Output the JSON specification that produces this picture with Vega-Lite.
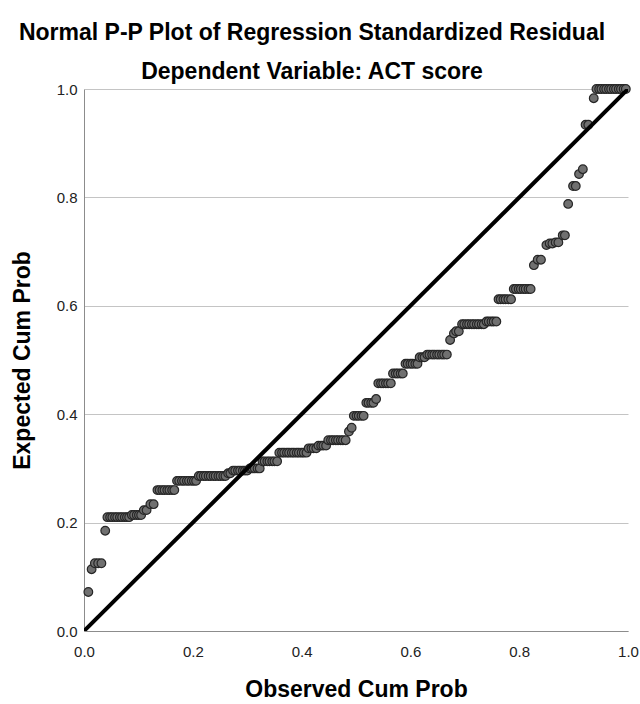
{
  "$schema": "https://vega.github.io/schema/vega-lite/v6.json",
  "autosize": "none",
  "width": 544,
  "height": 542,
  "padding": {"left": 84, "top": 89, "right": 12, "bottom": 73},
  "background": "white",
  "title": {
    "text": "Normal P-P Plot of Regression Standardized Residual",
    "subtitle": "Dependent Variable: ACT score",
    "font": "Liberation Sans",
    "fontSize": 23,
    "fontWeight": "bold",
    "color": "#000000",
    "subtitleFont": "Liberation Sans",
    "subtitleFontSize": 23,
    "subtitleFontWeight": "bold",
    "subtitleColor": "#000000",
    "subtitlePadding": 16,
    "anchor": "middle",
    "dx": -44,
    "offset": -2
  },
  "datasets": {
    "pts": [
      {"observed": 0.008, "expected": 0.072},
      {"observed": 0.014, "expected": 0.114},
      {"observed": 0.020, "expected": 0.125},
      {"observed": 0.026, "expected": 0.125},
      {"observed": 0.032, "expected": 0.125},
      {"observed": 0.039, "expected": 0.185},
      {"observed": 0.043, "expected": 0.210},
      {"observed": 0.048, "expected": 0.210},
      {"observed": 0.052, "expected": 0.210},
      {"observed": 0.057, "expected": 0.210},
      {"observed": 0.061, "expected": 0.210},
      {"observed": 0.066, "expected": 0.210},
      {"observed": 0.070, "expected": 0.210},
      {"observed": 0.075, "expected": 0.210},
      {"observed": 0.079, "expected": 0.210},
      {"observed": 0.083, "expected": 0.210},
      {"observed": 0.088, "expected": 0.214},
      {"observed": 0.092, "expected": 0.214},
      {"observed": 0.097, "expected": 0.214},
      {"observed": 0.101, "expected": 0.214},
      {"observed": 0.105, "expected": 0.214},
      {"observed": 0.110, "expected": 0.223},
      {"observed": 0.115, "expected": 0.223},
      {"observed": 0.122, "expected": 0.234},
      {"observed": 0.128, "expected": 0.234},
      {"observed": 0.135, "expected": 0.260},
      {"observed": 0.139, "expected": 0.260},
      {"observed": 0.144, "expected": 0.260},
      {"observed": 0.148, "expected": 0.260},
      {"observed": 0.153, "expected": 0.260},
      {"observed": 0.157, "expected": 0.260},
      {"observed": 0.162, "expected": 0.260},
      {"observed": 0.166, "expected": 0.260},
      {"observed": 0.171, "expected": 0.277},
      {"observed": 0.175, "expected": 0.277},
      {"observed": 0.180, "expected": 0.277},
      {"observed": 0.184, "expected": 0.277},
      {"observed": 0.189, "expected": 0.277},
      {"observed": 0.193, "expected": 0.277},
      {"observed": 0.198, "expected": 0.277},
      {"observed": 0.202, "expected": 0.277},
      {"observed": 0.206, "expected": 0.277},
      {"observed": 0.211, "expected": 0.286},
      {"observed": 0.215, "expected": 0.286},
      {"observed": 0.220, "expected": 0.286},
      {"observed": 0.224, "expected": 0.286},
      {"observed": 0.229, "expected": 0.286},
      {"observed": 0.233, "expected": 0.286},
      {"observed": 0.238, "expected": 0.286},
      {"observed": 0.242, "expected": 0.286},
      {"observed": 0.247, "expected": 0.286},
      {"observed": 0.251, "expected": 0.286},
      {"observed": 0.256, "expected": 0.286},
      {"observed": 0.260, "expected": 0.286},
      {"observed": 0.265, "expected": 0.291},
      {"observed": 0.269, "expected": 0.291},
      {"observed": 0.274, "expected": 0.296},
      {"observed": 0.278, "expected": 0.296},
      {"observed": 0.283, "expected": 0.296},
      {"observed": 0.287, "expected": 0.296},
      {"observed": 0.292, "expected": 0.296},
      {"observed": 0.296, "expected": 0.296},
      {"observed": 0.300, "expected": 0.296},
      {"observed": 0.305, "expected": 0.300},
      {"observed": 0.310, "expected": 0.300},
      {"observed": 0.314, "expected": 0.300},
      {"observed": 0.319, "expected": 0.300},
      {"observed": 0.323, "expected": 0.300},
      {"observed": 0.328, "expected": 0.313},
      {"observed": 0.332, "expected": 0.313},
      {"observed": 0.337, "expected": 0.313},
      {"observed": 0.341, "expected": 0.313},
      {"observed": 0.346, "expected": 0.313},
      {"observed": 0.350, "expected": 0.313},
      {"observed": 0.355, "expected": 0.313},
      {"observed": 0.359, "expected": 0.329},
      {"observed": 0.364, "expected": 0.329},
      {"observed": 0.368, "expected": 0.329},
      {"observed": 0.373, "expected": 0.329},
      {"observed": 0.377, "expected": 0.329},
      {"observed": 0.382, "expected": 0.329},
      {"observed": 0.386, "expected": 0.329},
      {"observed": 0.391, "expected": 0.329},
      {"observed": 0.395, "expected": 0.329},
      {"observed": 0.400, "expected": 0.329},
      {"observed": 0.404, "expected": 0.329},
      {"observed": 0.409, "expected": 0.329},
      {"observed": 0.413, "expected": 0.337},
      {"observed": 0.418, "expected": 0.337},
      {"observed": 0.422, "expected": 0.337},
      {"observed": 0.427, "expected": 0.337},
      {"observed": 0.431, "expected": 0.342},
      {"observed": 0.436, "expected": 0.342},
      {"observed": 0.440, "expected": 0.342},
      {"observed": 0.445, "expected": 0.342},
      {"observed": 0.449, "expected": 0.352},
      {"observed": 0.454, "expected": 0.352},
      {"observed": 0.458, "expected": 0.352},
      {"observed": 0.463, "expected": 0.352},
      {"observed": 0.467, "expected": 0.352},
      {"observed": 0.472, "expected": 0.352},
      {"observed": 0.476, "expected": 0.352},
      {"observed": 0.481, "expected": 0.352},
      {"observed": 0.487, "expected": 0.368},
      {"observed": 0.492, "expected": 0.375},
      {"observed": 0.496, "expected": 0.397},
      {"observed": 0.501, "expected": 0.397},
      {"observed": 0.505, "expected": 0.397},
      {"observed": 0.510, "expected": 0.397},
      {"observed": 0.514, "expected": 0.397},
      {"observed": 0.519, "expected": 0.421},
      {"observed": 0.523, "expected": 0.421},
      {"observed": 0.528, "expected": 0.421},
      {"observed": 0.532, "expected": 0.421},
      {"observed": 0.537, "expected": 0.428},
      {"observed": 0.541, "expected": 0.457},
      {"observed": 0.546, "expected": 0.457},
      {"observed": 0.550, "expected": 0.457},
      {"observed": 0.555, "expected": 0.457},
      {"observed": 0.559, "expected": 0.457},
      {"observed": 0.564, "expected": 0.457},
      {"observed": 0.568, "expected": 0.475},
      {"observed": 0.573, "expected": 0.475},
      {"observed": 0.577, "expected": 0.475},
      {"observed": 0.582, "expected": 0.475},
      {"observed": 0.586, "expected": 0.475},
      {"observed": 0.591, "expected": 0.493},
      {"observed": 0.595, "expected": 0.493},
      {"observed": 0.600, "expected": 0.493},
      {"observed": 0.604, "expected": 0.493},
      {"observed": 0.609, "expected": 0.493},
      {"observed": 0.613, "expected": 0.493},
      {"observed": 0.617, "expected": 0.505},
      {"observed": 0.622, "expected": 0.505},
      {"observed": 0.626, "expected": 0.505},
      {"observed": 0.631, "expected": 0.510},
      {"observed": 0.635, "expected": 0.510},
      {"observed": 0.640, "expected": 0.510},
      {"observed": 0.644, "expected": 0.510},
      {"observed": 0.649, "expected": 0.510},
      {"observed": 0.653, "expected": 0.510},
      {"observed": 0.658, "expected": 0.510},
      {"observed": 0.662, "expected": 0.510},
      {"observed": 0.667, "expected": 0.510},
      {"observed": 0.673, "expected": 0.537},
      {"observed": 0.680, "expected": 0.549},
      {"observed": 0.684, "expected": 0.553},
      {"observed": 0.689, "expected": 0.553},
      {"observed": 0.695, "expected": 0.566},
      {"observed": 0.699, "expected": 0.566},
      {"observed": 0.704, "expected": 0.566},
      {"observed": 0.708, "expected": 0.566},
      {"observed": 0.713, "expected": 0.566},
      {"observed": 0.717, "expected": 0.566},
      {"observed": 0.722, "expected": 0.566},
      {"observed": 0.726, "expected": 0.566},
      {"observed": 0.731, "expected": 0.566},
      {"observed": 0.735, "expected": 0.566},
      {"observed": 0.740, "expected": 0.571},
      {"observed": 0.744, "expected": 0.571},
      {"observed": 0.749, "expected": 0.571},
      {"observed": 0.753, "expected": 0.571},
      {"observed": 0.758, "expected": 0.571},
      {"observed": 0.762, "expected": 0.612},
      {"observed": 0.766, "expected": 0.612},
      {"observed": 0.771, "expected": 0.612},
      {"observed": 0.775, "expected": 0.612},
      {"observed": 0.780, "expected": 0.612},
      {"observed": 0.785, "expected": 0.612},
      {"observed": 0.790, "expected": 0.631},
      {"observed": 0.794, "expected": 0.631},
      {"observed": 0.799, "expected": 0.631},
      {"observed": 0.803, "expected": 0.631},
      {"observed": 0.808, "expected": 0.631},
      {"observed": 0.812, "expected": 0.631},
      {"observed": 0.817, "expected": 0.631},
      {"observed": 0.821, "expected": 0.631},
      {"observed": 0.827, "expected": 0.675},
      {"observed": 0.834, "expected": 0.685},
      {"observed": 0.840, "expected": 0.685},
      {"observed": 0.850, "expected": 0.712},
      {"observed": 0.856, "expected": 0.715},
      {"observed": 0.861, "expected": 0.715},
      {"observed": 0.867, "expected": 0.717},
      {"observed": 0.872, "expected": 0.717},
      {"observed": 0.880, "expected": 0.730},
      {"observed": 0.884, "expected": 0.730},
      {"observed": 0.890, "expected": 0.788},
      {"observed": 0.899, "expected": 0.821},
      {"observed": 0.904, "expected": 0.821},
      {"observed": 0.910, "expected": 0.843},
      {"observed": 0.917, "expected": 0.852},
      {"observed": 0.922, "expected": 0.934},
      {"observed": 0.927, "expected": 0.934},
      {"observed": 0.937, "expected": 0.983},
      {"observed": 0.942, "expected": 1.0},
      {"observed": 0.947, "expected": 1.0},
      {"observed": 0.951, "expected": 1.0},
      {"observed": 0.956, "expected": 1.0},
      {"observed": 0.960, "expected": 1.0},
      {"observed": 0.965, "expected": 1.0},
      {"observed": 0.969, "expected": 1.0},
      {"observed": 0.974, "expected": 1.0},
      {"observed": 0.978, "expected": 1.0},
      {"observed": 0.983, "expected": 1.0},
      {"observed": 0.987, "expected": 1.0},
      {"observed": 0.992, "expected": 1.0},
      {"observed": 0.996, "expected": 1.0}
    ],
    "ref": [
      {"observed": 0, "expected": 0},
      {"observed": 1, "expected": 1}
    ]
  },
  "config": {
    "view": {"stroke": null},
    "axis": {
      "labelFont": "Liberation Sans",
      "labelFontSize": 15,
      "labelColor": "#222222",
      "titleFont": "Liberation Sans",
      "titleFontSize": 23,
      "titleFontWeight": "bold",
      "titleColor": "#000000",
      "domainColor": "#8c8c8c",
      "domainWidth": 1,
      "ticks": false,
      "gridColor": "#c4c4c4",
      "gridWidth": 1
    }
  },
  "layer": [
    {
      "data": {"name": "pts"},
      "mark": {"type": "point", "shape": "circle", "filled": true, "size": 75, "fill": "#707070", "stroke": "#262626", "strokeWidth": 1.2, "opacity": 1},
      "encoding": {
        "x": {
          "field": "observed", "type": "quantitative",
          "scale": {"domain": [0, 1], "nice": false, "zero": false},
          "axis": {"title": "Observed Cum Prob", "values": [0, 0.2, 0.4, 0.6, 0.8, 1.0], "format": ".1f", "grid": false, "labelPadding": 13, "titlePadding": 19, "labelFlush": false}
        },
        "y": {
          "field": "expected", "type": "quantitative",
          "scale": {"domain": [0, 1], "nice": false, "zero": false},
          "axis": {"title": "Expected Cum Prob", "values": [0, 0.2, 0.4, 0.6, 0.8, 1.0], "format": ".1f", "grid": true, "labelPadding": 7, "titlePadding": 22, "labelFlush": false}
        }
      }
    },
    {
      "data": {"name": "ref"},
      "mark": {"type": "line", "color": "#000000", "strokeWidth": 4, "clip": true},
      "encoding": {
        "x": {"field": "observed", "type": "quantitative"},
        "y": {"field": "expected", "type": "quantitative"}
      }
    }
  ]
}
